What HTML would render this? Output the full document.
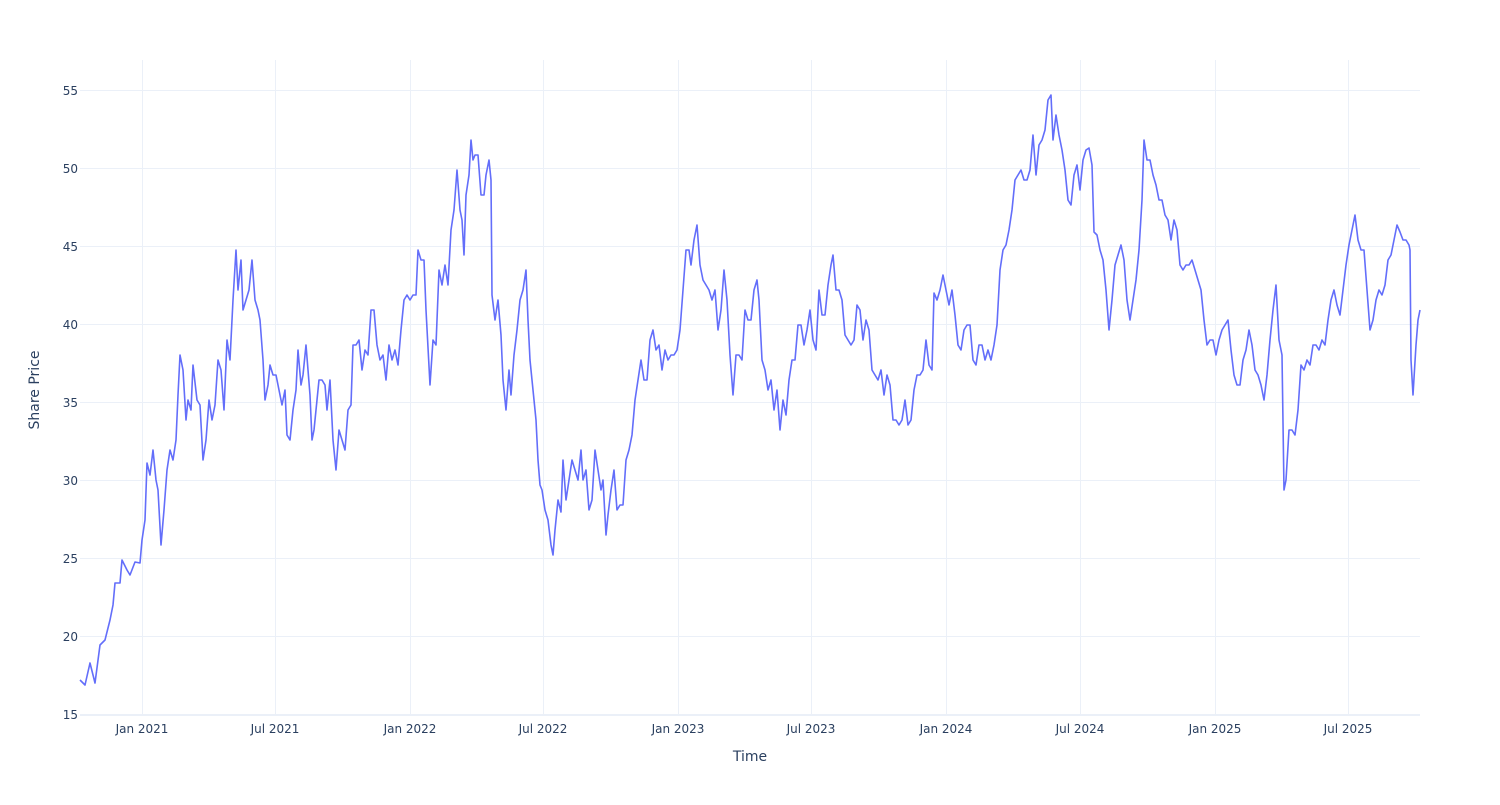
<!DOCTYPE html>
<html><head><meta charset="utf-8"><style>
body{margin:0;background:#fff;}
svg text{font-family:"DejaVu Sans","Liberation Sans",sans-serif;fill:#2a3f5f;}
</style></head><body>
<svg width="1500" height="800" xmlns="http://www.w3.org/2000/svg">
<g stroke="#ebf0f8" stroke-width="1">
<line x1="80" x2="1420" y1="90.5" y2="90.5"/><line x1="80" x2="1420" y1="168.5" y2="168.5"/><line x1="80" x2="1420" y1="246.5" y2="246.5"/><line x1="80" x2="1420" y1="324.5" y2="324.5"/><line x1="80" x2="1420" y1="402.5" y2="402.5"/><line x1="80" x2="1420" y1="480.5" y2="480.5"/><line x1="80" x2="1420" y1="558.5" y2="558.5"/><line x1="80" x2="1420" y1="636.5" y2="636.5"/>
<line x1="142.5" x2="142.5" y1="60" y2="715"/><line x1="275.5" x2="275.5" y1="60" y2="715"/><line x1="410.5" x2="410.5" y1="60" y2="715"/><line x1="543.5" x2="543.5" y1="60" y2="715"/><line x1="678.5" x2="678.5" y1="60" y2="715"/><line x1="811.5" x2="811.5" y1="60" y2="715"/><line x1="946.5" x2="946.5" y1="60" y2="715"/><line x1="1080.5" x2="1080.5" y1="60" y2="715"/><line x1="1215.5" x2="1215.5" y1="60" y2="715"/><line x1="1348.5" x2="1348.5" y1="60" y2="715"/>
</g>
<line x1="80" x2="1420" y1="715" y2="715" stroke="#ebf0f8" stroke-width="2"/>
<g font-size="12" text-anchor="end">
<text x="78" y="95">55</text><text x="78" y="173">50</text><text x="78" y="251">45</text><text x="78" y="329">40</text><text x="78" y="407">35</text><text x="78" y="485">30</text><text x="78" y="563">25</text><text x="78" y="641">20</text><text x="78" y="719">15</text>
</g>
<g font-size="12" text-anchor="middle">
<text x="142" y="733">Jan 2021</text><text x="275" y="733">Jul 2021</text><text x="410" y="733">Jan 2022</text><text x="543" y="733">Jul 2022</text><text x="678" y="733">Jan 2023</text><text x="811" y="733">Jul 2023</text><text x="946" y="733">Jan 2024</text><text x="1080" y="733">Jul 2024</text><text x="1215" y="733">Jan 2025</text><text x="1348" y="733">Jul 2025</text>
</g>
<text x="750" y="761" font-size="14" text-anchor="middle">Time</text>
<text x="39" y="390" font-size="14" text-anchor="middle" transform="rotate(-90 39 390)">Share Price</text>
<polyline fill="none" stroke="#636efa" stroke-width="1.6" stroke-linejoin="round" points="80,680 85,685 90,663 95,683 100,645 105,640 110,620 113,605 115,583 120,583 122,560 127,570 130,575 135,562 140,563 142,540 145,520 147,463 150,475 153,450 156,480 158,490 161,545 164,510 167,470 170,450 173,460 176,440 178,395 180,355 183,370 186,420 188,400 191,410 193,365 197,400 200,405 203,460 206,440 209,400 212,420 215,405 218,360 221,370 224,410 227,340 230,360 233,300 236,250 238,290 241,260 243,310 246,300 249,290 252,260 255,300 258,310 260,320 263,360 265,400 268,385 270,365 273,375 276,375 279,390 282,405 285,390 287,435 290,440 293,410 296,390 298,350 301,385 303,375 306,345 308,370 310,395 312,440 314,430 317,400 319,380 322,380 325,385 327,410 330,380 333,440 336,470 339,430 342,440 345,450 348,410 351,405 353,345 356,345 359,340 362,370 365,350 368,355 371,310 374,310 377,345 380,360 383,355 386,380 389,345 392,360 395,350 398,365 401,330 404,300 407,295 410,300 413,295 416,295 418,250 421,260 424,260 426,310 430,385 433,340 436,345 439,270 442,285 445,265 448,285 451,230 454,210 457,170 460,210 462,220 464,255 466,195 469,175 471,140 473,160 475,155 478,155 481,195 484,195 486,175 489,160 491,180 492,295 495,320 498,300 501,335 503,380 506,410 509,370 511,395 514,355 517,330 520,300 523,290 526,270 528,320 530,360 533,390 536,420 538,460 540,485 542,490 545,510 548,520 551,545 553,555 555,530 558,500 561,512 563,460 566,500 569,480 572,460 575,470 578,480 581,450 583,480 586,470 589,510 592,500 595,450 598,470 601,490 603,480 606,535 608,515 611,490 614,470 617,510 620,505 623,505 626,460 629,450 632,435 635,400 638,380 641,360 644,380 647,380 650,340 653,330 656,350 659,345 662,370 665,350 668,360 671,355 674,355 677,350 680,330 683,290 686,250 689,250 691,265 694,240 697,225 700,265 703,280 706,285 709,290 712,300 715,290 718,330 721,310 724,270 727,300 730,355 733,395 736,355 739,355 742,360 745,310 748,320 751,320 754,290 757,280 759,300 762,360 765,370 768,390 771,380 774,410 777,390 780,430 783,400 786,415 789,380 792,360 795,360 798,325 801,325 804,345 807,330 810,310 813,340 816,350 819,290 822,315 825,315 828,285 831,265 833,255 836,290 839,290 842,300 845,335 848,340 851,345 854,340 857,305 860,310 863,340 866,320 869,330 872,370 875,375 878,380 881,370 884,395 887,375 890,385 893,420 896,420 899,425 902,420 905,400 908,425 911,420 914,390 917,375 920,375 923,370 926,340 929,365 932,370 934,293 937,300 940,290 943,275 946,290 949,305 952,290 955,315 958,345 961,350 964,330 967,325 970,325 973,360 976,365 979,345 982,345 985,360 988,350 991,360 994,345 997,325 1000,270 1003,250 1006,245 1009,230 1012,210 1015,180 1018,175 1021,170 1024,180 1027,180 1030,170 1033,135 1036,175 1039,145 1042,140 1045,130 1048,100 1051,95 1053,140 1056,115 1059,135 1062,150 1065,170 1068,200 1071,205 1074,175 1077,165 1080,190 1083,160 1086,150 1089,148 1092,165 1094,232 1097,235 1100,250 1103,260 1106,290 1109,330 1112,300 1115,265 1118,255 1121,245 1124,260 1127,300 1130,320 1133,300 1136,280 1139,250 1142,200 1144,140 1147,160 1150,160 1153,175 1156,185 1159,200 1162,200 1165,215 1168,220 1171,240 1174,220 1177,230 1180,265 1183,270 1186,265 1189,265 1192,260 1195,270 1198,280 1201,290 1204,320 1207,345 1210,340 1213,340 1216,355 1219,340 1222,330 1225,325 1228,320 1231,350 1234,375 1237,385 1240,385 1243,360 1246,350 1249,330 1252,345 1255,370 1258,375 1261,385 1264,400 1267,375 1270,340 1273,310 1276,285 1279,340 1282,355 1284,490 1286,480 1289,430 1292,430 1295,435 1298,410 1301,365 1304,370 1307,360 1310,365 1313,345 1316,345 1319,350 1322,340 1325,345 1328,320 1331,300 1334,290 1337,305 1340,315 1343,290 1346,265 1349,245 1352,230 1355,215 1358,240 1361,250 1364,250 1367,290 1370,330 1373,320 1376,300 1379,290 1382,295 1385,285 1388,260 1391,255 1394,240 1397,225 1400,232 1403,240 1406,240 1409,245 1410,250 1411,360 1413,395 1416,345 1418,320 1420,310"/>
</svg>
</body></html>
